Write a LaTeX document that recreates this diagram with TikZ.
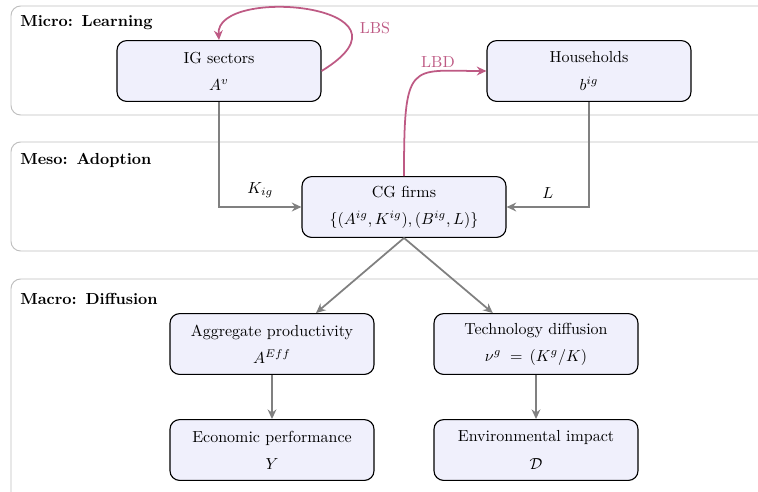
\documentclass[tikz,border=0pt]{standalone}
\usetikzlibrary{arrows.meta}
\definecolor{pinkc}{RGB}{190,90,132}
\definecolor{nodefill}{RGB}{240,240,252}
\begin{document}
\begin{tikzpicture}[x=0.625pt,y=-0.625pt,
 box/.style={draw=black, line width=0.7pt, fill=nodefill, rounded corners=6pt, minimum width=127.5pt, minimum height=38pt, align=center, inner sep=0pt},
 layer/.style={draw=gray!50, line width=0.6pt, rounded corners=6pt},
 layerlabel/.style={anchor=west, font=\bfseries, inner sep=0pt},
 flow/.style={draw=gray, line width=1.1pt, -{Stealth[length=6pt,width=5.5pt]}},
 learn/.style={draw=pinkc, line width=1.1pt, -{Stealth[length=6pt,width=5.5pt]}},
 lab/.style={inner sep=1pt, above=4pt}]
\clip (0,0) rectangle (758,491);
% layers
\draw[layer] (11,6) rectangle (800,115);
\draw[layer] (11,142) rectangle (800,251);
\draw[layer] (11,279) rectangle (800,520);
\node[layerlabel] (micro) at (20,23) {Micro:\ \,Learning};
\node[layerlabel] (meso) at (20,160) {Meso:\ \,Adoption};
\node[layerlabel] (macro) at (20,299) {Macro:\ \,Diffusion};
% nodes
\node[box] (ig) at (219,71) {IG sectors\\[5pt]$A^{v}$};
\node[box] (hh) at (589,71) {Households\\[5pt]$b^{ig}$};
\node[box] (cg) at (404,207) {CG firms\\[5pt]$\{(A^{ig},K^{ig}),(B^{ig},L)\}$};
\node[box] (agg) at (272,344) {Aggregate productivity\\[5pt]$A^{Eff}$};
\node[box] (tech) at (536,344) {Technology diffusion\\[5pt]$\nu^{g}\;=\,(K^{g}/K)$};
\node[box] (econ) at (272,450) {Economic performance\\[5pt]$Y$};
\node[box] (env) at (536,450) {Environmental impact\\[5pt]$\mathcal{D}$};
% flows
\draw[flow] (ig.south) |- (cg.west) node[lab, pos=0.75] {$K_{ig}$};
\draw[flow] (hh.south) |- (cg.east) node[lab, pos=0.75] {$L$};
\draw[flow] (cg.south) -- ([xshift=27.5pt]agg.north);
\draw[flow] (cg.south) -- ([xshift=-27pt]tech.north);
\draw[flow] (agg) -- (econ);
\draw[flow] (tech) -- (env);
% learning
\draw[learn] (ig.east) .. controls (430,5) and (215,-15) .. (ig.north);
\node[text=pinkc] (lbs) at (375,28) {LBS};
\draw[learn] (cg.north) .. controls +(0,-117) and +(-77,0) .. (hh.west);
\node[text=pinkc] (lbd) at (438,62) {LBD};
\end{tikzpicture}
\end{document}
